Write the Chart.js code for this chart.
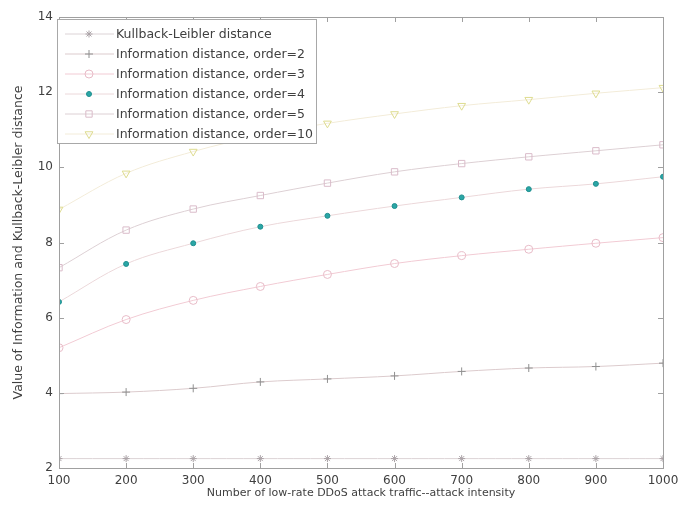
<!DOCTYPE html>
<html>
<head>
<meta charset="utf-8">
<script src="https://cdn.jsdelivr.net/npm/chart.js@4.4.1/dist/chart.umd.min.js"></script>
<style>
  html, body { margin: 0; padding: 0; background: #fff; }
  #wrap { width: 691px; height: 509px; }
</style>
</head>
<body>
<div id="wrap"><canvas id="distanceChart" width="691" height="509"></canvas></div>
<script>
// Attack intensity on the x axis
const attackIntensity = [100, 200, 300, 400, 500, 600, 700, 800, 900, 1000];

// Measured distances for each metric
const klDistance = [2.25, 2.25, 2.25, 2.25, 2.25, 2.25, 2.25, 2.25, 2.25, 2.25];
const infoOrder2 = [3.98, 4.02, 4.12, 4.29, 4.37, 4.45, 4.57, 4.66, 4.70, 4.79];
const infoOrder3 = [5.2, 5.95, 6.46, 6.83, 7.15, 7.44, 7.65, 7.82, 7.98, 8.13];
const infoOrder4 = [6.42, 7.43, 7.98, 8.42, 8.71, 8.97, 9.2, 9.42, 9.56, 9.75];
const infoOrder5 = [7.33, 8.33, 8.89, 9.25, 9.58, 9.88, 10.1, 10.28, 10.44, 10.6];
const infoOrder10 = [8.88, 9.84, 10.42, 10.85, 11.17, 11.42, 11.64, 11.8, 11.97, 12.12];

const seriesLabels = [
    'Kullback-Leibler distance',
    'Information distance, order=2',
    'Information distance, order=3',
    'Information distance, order=4',
    'Information distance, order=5',
    'Information distance, order=10'
];

const yTicks = [2, 4, 6, 8, 10, 12, 14];

const FONT = '"DejaVu Sans", Verdana, sans-serif';
const TEXT = '#404040';

function series(label, values, line, marker, style, radius, fill) {
    return {
        label: label,
        data: attackIntensity.map((x, i) => ({ x: x, y: values[i] })),
        borderColor: line,
        borderWidth: 1,
        pointStyle: style,
        pointRadius: radius,
        pointBorderColor: marker,
        pointBackgroundColor: fill || 'rgba(0,0,0,0)',
        pointBorderWidth: 1,
        tension: 0.35,
        fill: false
    };
}

const datasets = [
    series(seriesLabels[0], klDistance, '#dcd3d6', '#aaa2a6', 'star', 3.5),
    series(seriesLabels[1], infoOrder2, '#dccbcd', '#909090', 'cross', 4),
    series(seriesLabels[2], infoOrder3, '#f2cbd4', '#e8bcc8', 'circle', 4),
    series(seriesLabels[3], infoOrder4, '#ecd8da', '#1f8f8f', 'circle', 2.5, '#2aa6a6'),
    series(seriesLabels[4], infoOrder5, '#ddd0d4', '#dabcca', 'rect', 4.5),
    series(seriesLabels[5], infoOrder10, '#f3ecd9', '#dedc90', 'triangle', 4.5)
];
datasets[5].pointRotation = 180;

// Box frame with inward ticks on all four sides
const framePlugin = {
    id: 'frame',
    afterDatasetsDraw(chart) {
        const { ctx, chartArea: a, scales } = chart;
        ctx.save();
        ctx.strokeStyle = '#a0a0a0';
        ctx.lineWidth = 1;
        ctx.strokeRect(a.left + 0.5, a.top + 0.5, a.right - a.left, a.bottom - a.top);
        ctx.beginPath();
        attackIntensity.forEach(v => {
            const x = Math.round(scales.x.getPixelForValue(v)) + 0.5;
            ctx.moveTo(x, a.bottom); ctx.lineTo(x, a.bottom - 5);
            ctx.moveTo(x, a.top); ctx.lineTo(x, a.top + 5);
        });
        yTicks.forEach(v => {
            const y = Math.round(scales.y.getPixelForValue(v)) + 0.5;
            ctx.moveTo(a.left, y); ctx.lineTo(a.left + 5, y);
            ctx.moveTo(a.right, y); ctx.lineTo(a.right - 5, y);
        });
        ctx.stroke();
        ctx.restore();
    }
};

// Legend box in the upper-left corner of the plot
const legendBoxPlugin = {
    id: 'legendBox',
    afterDraw(chart) {
        const { ctx, chartArea: a } = chart;
        const left = a.left - 2, top = a.top + 2, w = 259, rowH = 20;
        const h = rowH * datasets.length + 4;
        ctx.save();
        ctx.fillStyle = '#fff';
        ctx.fillRect(left, top, w, h);
        ctx.strokeStyle = '#a8a8a8';
        ctx.lineWidth = 1;
        ctx.strokeRect(left + 0.5, top + 0.5, w, h);
        ctx.font = '12.5px ' + FONT;
        ctx.textBaseline = 'middle';
        chart.data.datasets.forEach((ds, i) => {
            const y = top + 15 + i * rowH;
            ctx.strokeStyle = ds.borderColor;
            ctx.beginPath();
            ctx.moveTo(left + 8, y); ctx.lineTo(left + 57, y);
            ctx.stroke();
            ctx.fillStyle = ds.pointBackgroundColor;
            ctx.strokeStyle = ds.pointBorderColor;
            Chart.helpers.drawPoint(ctx, {
                pointStyle: ds.pointStyle,
                radius: ds.pointRadius,
                rotation: ds.pointRotation || 0,
                borderWidth: 1
            }, left + 32, y);
            ctx.fillStyle = TEXT;
            ctx.fillText(ds.label, left + 59, y + 1);
        });
        ctx.restore();
    }
};

new Chart(document.getElementById('distanceChart'), {
    type: 'line',
    data: { datasets: datasets },
    options: {
        responsive: false,
        animation: false,
        layout: { padding: { top: 17, right: 28, left: 0, bottom: 0 } },
        plugins: {
            legend: { display: false },
            tooltip: { enabled: false }
        },
        scales: {
            x: {
                type: 'linear',
                min: 100,
                max: 1000,
                afterBuildTicks: scale => { scale.ticks = attackIntensity.map(v => ({ value: v })); },
                afterFit: scale => { scale.height = 41; },
                grid: { display: false, drawTicks: false },
                border: { display: false },
                ticks: {
                    color: TEXT,
                    font: { family: FONT, size: 12 },
                    padding: 6,
                    maxRotation: 0,
                    callback: v => String(v)
                },
                title: {
                    display: true,
                    text: 'Number of low-rate DDoS attack traffic--attack intensity',
                    color: TEXT,
                    font: { family: FONT, size: 11 },
                    padding: { top: 0, bottom: 9 }
                }
            },
            y: {
                min: 2,
                max: 14,
                afterBuildTicks: scale => { scale.ticks = yTicks.map(v => ({ value: v })); },
                afterFit: scale => { scale.width = 59; },
                grid: { display: false, drawTicks: false },
                border: { display: false },
                ticks: { color: TEXT, font: { family: FONT, size: 12 }, padding: 6 },
                title: {
                    display: true,
                    text: 'Value of Information and Kullback-Leibler distance',
                    color: TEXT,
                    font: { family: FONT, size: 12.5 },
                    padding: { top: 11, bottom: 0 }
                }
            }
        }
    },
    plugins: [framePlugin, legendBoxPlugin]
});
</script>
</body>
</html>
